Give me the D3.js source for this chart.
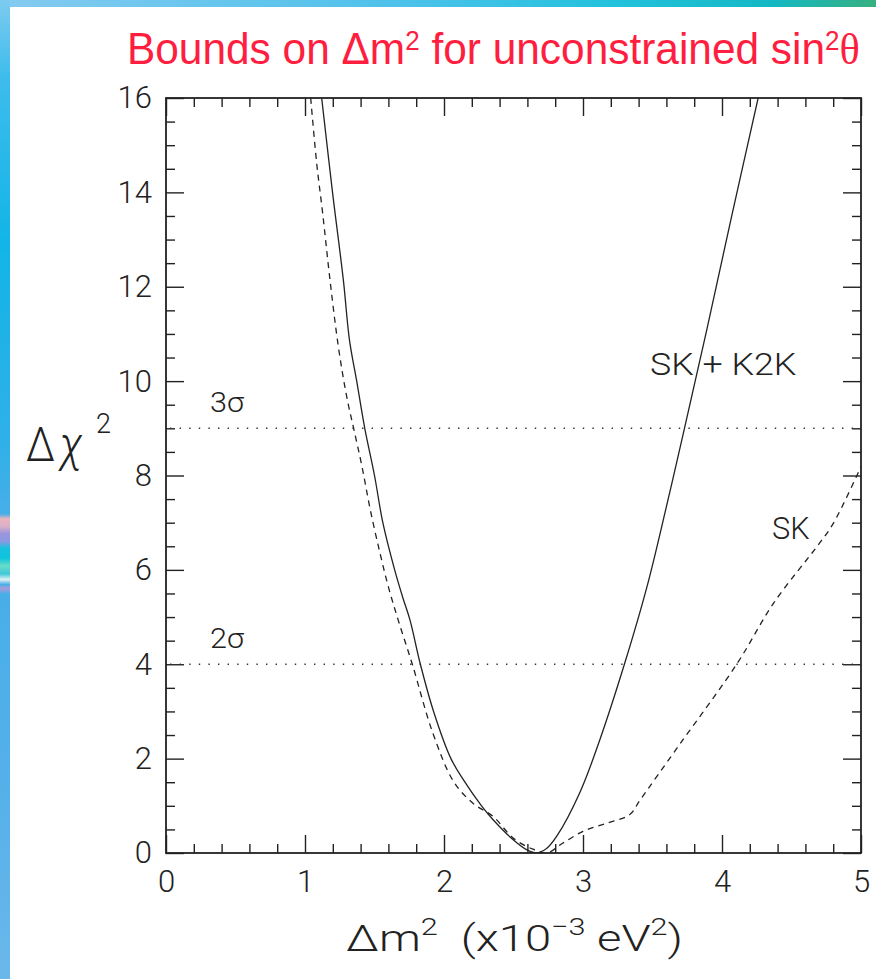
<!DOCTYPE html>
<html>
<head>
<meta charset="utf-8">
<script src="https://cdn.jsdelivr.net/npm/d3@7"></script>
<style>
  html, body { margin: 0; padding: 0; background: #fff; }
  svg { display: block; }
</style>
</head>
<body>
<svg id="chart" width="880" height="979"></svg>
<script>
// Δχ² profiles versus Δm² (in units of 10^-3 eV^2), sin²θ left free.

// SK + K2K combined fit (solid)
const combinedDm2 = [1.120, 1.198, 1.276, 1.320, 1.372, 1.430, 1.500, 1.560, 1.645, 1.705,
  1.755, 1.830, 1.925, 2.050, 2.140, 2.270, 2.355, 2.500, 2.600, 2.667,
  2.740, 2.810, 2.980, 3.120, 3.300, 3.460, 3.600, 3.730, 3.890, 4.070, 4.260];
const combinedChi2 = [16, 14, 12.14, 10.87, 10.0, 9.0, 8.0, 7.0, 6.0, 5.4,
  4.94, 4.0, 3.0, 2.0, 1.55, 1.0, 0.70, 0.275, 0.06, 0.0,
  0.1, 0.35, 1.30, 2.39, 4.02, 5.64, 7.34, 9.0, 11.08, 13.5, 16];

// SK alone (dashed)
const skDm2 = [1.041, 1.084, 1.127, 1.180, 1.240, 1.300, 1.350, 1.410, 1.470, 1.540,
  1.600, 1.670, 1.770, 1.920, 2.070, 2.210, 2.355, 2.500, 2.640, 2.740,
  2.850, 3.000, 3.170, 3.335, 3.410, 3.700, 4.110, 4.370, 4.700, 4.800, 5.000];
const skChi2 = [16, 14.62, 13.56, 12.14, 10.73, 9.67, 9.0, 8.19, 7.27, 6.35,
  5.64, 4.94, 4.02, 2.54, 1.51, 1.05, 0.77, 0.31, 0.08, 0.0,
  0.2, 0.46, 0.63, 0.81, 1.12, 2.32, 4.02, 5.29, 6.56, 6.98, 8.19];

// Axes
const xDomain = [0, 5];
const yDomain = [0, 16];
const xMajorTicks = [0, 1, 2, 3, 4, 5];
const xMinorTicks = d3.range(0, 5.001, 0.2).filter(v => Math.abs(v - Math.round(v)) > 1e-6);
const yMajorTicks = [0, 2, 4, 6, 8, 10, 12, 14, 16];
const yMinorTicks = d3.range(0, 16.001, 0.5).filter(v => Math.abs(v / 2 - Math.round(v / 2)) > 1e-6);

// Confidence levels
const sigmaLevels = [9, 4];
const sigmaLabels = ["3σ", "2σ"];

const ink = "#222";
const svg = d3.select("#chart");

// ---- slide backdrop: coloured bars along the left and top edges ----
const defs = svg.append("defs");
const sideGrad = defs.append("linearGradient").attr("id", "sideGrad")
  .attr("x1", 0).attr("y1", 0).attr("x2", 0).attr("y2", 1);
[
  [0, "#7ccbf0"], [0.08, "#3dbcec"], [0.25, "#12b5e7"], [0.45, "#2fb0e8"],
  [0.525, "#48aee8"], [0.530, "#e9b6bc"], [0.538, "#d8afc9"], [0.545, "#9c94dc"],
  [0.553, "#8b9ae0"], [0.560, "#18c0de"], [0.570, "#0cc4dc"], [0.578, "#6adcc8"],
  [0.586, "#40c8d8"], [0.592, "#e0f0f4"], [0.597, "#48b0e8"], [0.601, "#a89cdc"],
  [0.607, "#48aee8"], [0.8, "#55b0ea"], [1, "#6ab8ea"]
].forEach(([o, c]) => sideGrad.append("stop").attr("offset", o).attr("stop-color", c));

const topGrad = defs.append("linearGradient").attr("id", "topGrad")
  .attr("x1", 0).attr("y1", 0).attr("x2", 1).attr("y2", 0);
[
  [0, "#85caf0"], [0.45, "#4ec2ea"], [0.7, "#22c2dc"], [0.88, "#14b8c4"], [1, "#36b080"]
].forEach(([o, c]) => topGrad.append("stop").attr("offset", o).attr("stop-color", c));

svg.append("rect").attr("x", 0).attr("y", 0).attr("width", 876).attr("height", 7).attr("fill", "url(#topGrad)");
svg.append("rect").attr("x", 0).attr("y", 0).attr("width", 10).attr("height", 979).attr("fill", "url(#sideGrad)");

// ---- plot frame ----
const plot = { left: 166, right: 861, top: 98, bottom: 853 };
const x = d3.scaleLinear().domain(xDomain).range([plot.left, plot.right]);
const y = d3.scaleLinear().domain(yDomain).range([plot.bottom, plot.top]);

defs.append("clipPath").attr("id", "plotClip")
  .append("rect")
  .attr("x", plot.left).attr("y", plot.top)
  .attr("width", plot.right - plot.left).attr("height", plot.bottom - plot.top);

const majorLen = 18, minorLen = 9;
const fontSans = "'Liberation Sans', Arial, Helvetica, sans-serif";
const fontLight = "Roboto, 'Liberation Sans', Arial, sans-serif";
const fontSerif = "'Liberation Serif', 'Times New Roman', serif";

function styleAxis(g) {
  g.select(".domain").remove();
  g.selectAll(".tick line").attr("stroke", ink).attr("stroke-width", 1.4);
  g.selectAll(".tick text").attr("fill", ink).attr("font-family", fontLight)
    .attr("font-weight", 300).attr("font-size", 31);
}

// bottom: labelled majors + minors, ticks pointing inward
svg.append("g").attr("transform", `translate(0,${plot.bottom})`)
  .call(d3.axisBottom(x).tickValues(xMajorTicks).tickSize(-majorLen).tickPadding(17).tickFormat(d3.format("d")))
  .call(styleAxis);
svg.append("g").attr("transform", `translate(0,${plot.bottom})`)
  .call(d3.axisBottom(x).tickValues(xMinorTicks).tickSize(-minorLen).tickFormat(""))
  .call(styleAxis);
// top
svg.append("g").attr("transform", `translate(0,${plot.top})`)
  .call(d3.axisTop(x).tickValues(xMajorTicks).tickSize(-majorLen).tickFormat(""))
  .call(styleAxis);
svg.append("g").attr("transform", `translate(0,${plot.top})`)
  .call(d3.axisTop(x).tickValues(xMinorTicks).tickSize(-minorLen).tickFormat(""))
  .call(styleAxis);
// left
svg.append("g").attr("transform", `translate(${plot.left},0)`)
  .call(d3.axisLeft(y).tickValues(yMajorTicks).tickSize(-majorLen).tickPadding(14).tickFormat(d3.format("d")))
  .call(styleAxis);
svg.append("g").attr("transform", `translate(${plot.left},0)`)
  .call(d3.axisLeft(y).tickValues(yMinorTicks).tickSize(-minorLen).tickFormat(""))
  .call(styleAxis);
// right
svg.append("g").attr("transform", `translate(${plot.right},0)`)
  .call(d3.axisRight(y).tickValues(yMajorTicks).tickSize(-majorLen).tickFormat(""))
  .call(styleAxis);
svg.append("g").attr("transform", `translate(${plot.right},0)`)
  .call(d3.axisRight(y).tickValues(yMinorTicks).tickSize(-minorLen).tickFormat(""))
  .call(styleAxis);

svg.append("rect")
  .attr("x", plot.left).attr("y", plot.top)
  .attr("width", plot.right - plot.left).attr("height", plot.bottom - plot.top)
  .attr("fill", "none").attr("stroke", ink).attr("stroke-width", 1.8);

// ---- helper: stretch a text block horizontally so it spans [x0, x1] ----
function fitAt(sel, x0, x1) {
  sel.attr("x", 0);
  const bb = sel.node().getBBox();
  const s = (x1 - x0) / bb.width;
  sel.attr("transform", `translate(${x0 - bb.x * s},0) scale(${s},1)`);
}

// ---- confidence level lines ----
svg.append("g").selectAll("line").data(sigmaLevels).join("line")
  .attr("x1", plot.left + 4).attr("x2", plot.right)
  .attr("y1", d => y(d)).attr("y2", d => y(d))
  .attr("stroke", "#333").attr("stroke-width", 1.5)
  .attr("stroke-dasharray", "1.4,8.2");

svg.append("g").selectAll("text").data(sigmaLevels).join("text")
  .attr("y", d => y(d) - 16)
  .attr("font-family", fontLight).attr("font-weight", 300)
  .attr("font-size", 27).attr("fill", ink)
  .text((d, i) => sigmaLabels[i])
  .each(function () { fitAt(d3.select(this), 210, 244); });

// ---- curves ----
const line = d3.line().x(d => x(d[0])).y(d => y(d[1])).curve(d3.curveCatmullRom.alpha(0.5));
const curves = svg.append("g").attr("clip-path", "url(#plotClip)");
curves.append("path")
  .datum(d3.zip(combinedDm2, combinedChi2))
  .attr("d", line).attr("fill", "none")
  .attr("stroke", ink).attr("stroke-width", 1.3);
curves.append("path")
  .datum(d3.zip(skDm2, skChi2))
  .attr("d", line).attr("fill", "none")
  .attr("stroke", ink).attr("stroke-width", 1.3)
  .attr("stroke-dasharray", "6,5");

// curve labels
const lblCombined = svg.append("text").attr("y", 375)
  .attr("font-family", fontLight).attr("font-weight", 300)
  .attr("font-size", 31).attr("fill", ink).text("SK + K2K");
fitAt(lblCombined, 650, 797);
const lblSK = svg.append("text").attr("y", 539)
  .attr("font-family", fontLight).attr("font-weight", 300)
  .attr("font-size", 31).attr("fill", ink).text("SK");
fitAt(lblSK, 772, 810);

// ---- x axis title ----
const xt = svg.append("text").attr("y", 951)
  .attr("font-family", fontLight).attr("font-weight", 300)
  .attr("font-size", 37).attr("fill", ink)
  .style("white-space", "pre");
xt.append("tspan").text("Δm");
xt.append("tspan").attr("font-size", 24).attr("dy", -16).text("2");
xt.append("tspan").attr("dy", 16).text("  (x10");
xt.append("tspan").attr("font-size", 24).attr("dy", -16).text("−3");
xt.append("tspan").attr("dy", 16).text(" eV");
xt.append("tspan").attr("font-size", 24).attr("dy", -16).text("2");
xt.append("tspan").attr("dy", 16).text(")");
fitAt(xt, 346, 683);

// ---- y axis title ----
const yDelta = svg.append("text").attr("y", 461)
  .attr("font-family", fontLight).attr("font-weight", 300)
  .attr("font-size", 48).attr("fill", ink).text("Δ");
fitAt(yDelta, 26, 55);
const yChi = svg.append("text").attr("y", 461)
  .attr("font-family", fontLight).attr("font-weight", 300).attr("font-style", "italic")
  .attr("font-size", 50).attr("fill", ink).text("χ");
fitAt(yChi, 58, 83);
svg.append("text").attr("x", 96).attr("y", 433)
  .attr("font-family", fontLight).attr("font-weight", 300)
  .attr("font-size", 27).attr("fill", ink).text("2");

// ---- slide title ----
const title = svg.append("text").attr("y", 64)
  .attr("font-family", fontSans).attr("font-size", 44).attr("fill", "#fe1e40")
  .style("white-space", "pre");
title.append("tspan").text("Bounds on Δm");
title.append("tspan").attr("font-size", 27).attr("dy", -14).text("2");
title.append("tspan").attr("dy", 14).text(" for unconstrained sin");
title.append("tspan").attr("font-size", 27).attr("dy", -14).text("2");
title.append("tspan").attr("dy", 14).attr("font-family", fontSerif).text("θ");
fitAt(title, 127, 860);
</script>
</body>
</html>
